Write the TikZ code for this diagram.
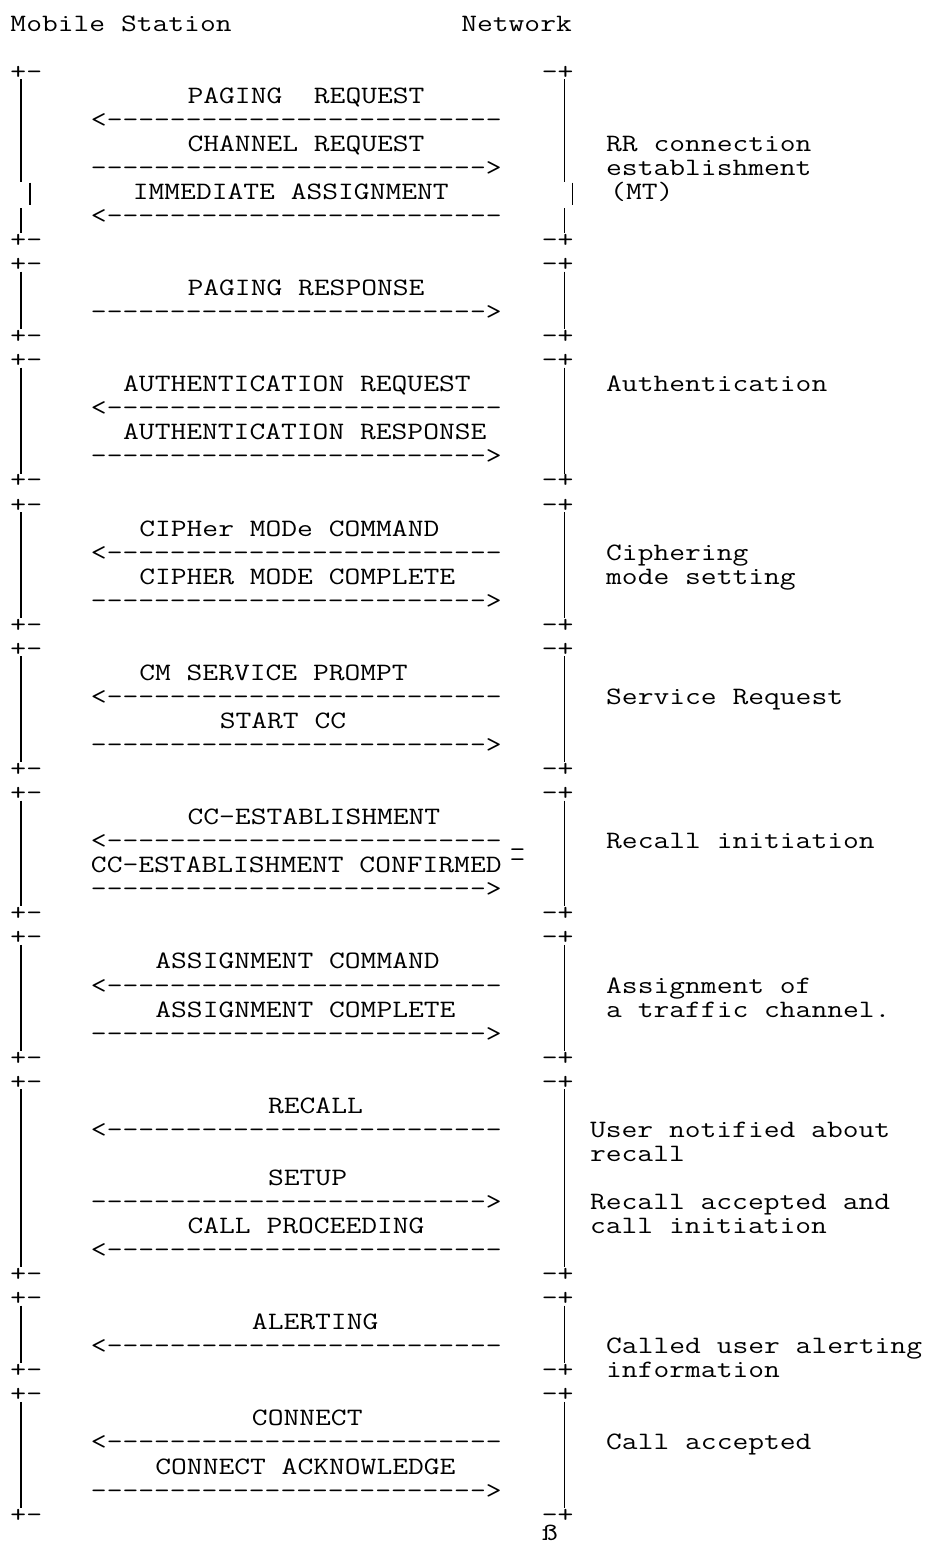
\documentclass[tikz,border=0pt]{standalone}
\newcommand\dashes[1]{\foreach \k in {1,...,#1}{-}}
\begin{document}
\begin{tikzpicture}[x=8.05pt, y=-12.025pt,
    msg/.style={anchor=base west, inner sep=0pt, xscale=1.2267, font=\ttfamily\fontsize{12.5}{13}\selectfont},
    bar/.style={line width=0.6pt}]
    \useasboundingbox (-0.621,-0.289) rectangle (56.96,63.91);
    % header
    \node[msg] (ms) at (0,1) {Mobile Station};
    \node[msg] (nw) at (28,1) {Network};
    % corners and side bars of the blocks
    \foreach \t/\b in {3/10,11/14,15/20,21/26,27/32,33/38,39/44,45/53,54/57,58/63} {
        \node[msg] (tl\t) at (0,\t) {+-};
        \node[msg] (tr\t) at (33,\t) {-+};
        \node[msg] (bl\b) at (0,\b) {+-};
        \node[msg] (br\b) at (33,\b) {-+};
    }
    \foreach \t/\b in {11/14,15/20,21/26,27/32,33/38,39/44,45/53,54/57,58/63} {
        \draw[bar] (0.683,\t) -- (0.683,\b-0.6);
        \draw[bar] (34.45,\t) -- (34.45,\b-0.6);
    }
    \draw[bar] (0.683,3) -- (0.683,7.28);
    \draw[bar] (1.24,7.3) -- (1.24,8.23);
    \draw[bar] (0.683,8.36) -- (0.683,9.4);
    \draw[bar] (34.45,3) -- (34.45,7.28);
    \draw[bar] (34.95,7.3) -- (34.95,8.23);
    \draw[bar] (34.45,8.36) -- (34.45,9.4);
    % message names
    \foreach \c/\l/\txt in {11/4/PAGING\ \ REQUEST, 11/6/CHANNEL REQUEST,
        7.6/8/IMMEDIATE ASSIGNMENT, 11/12/PAGING RESPONSE,
        7/16/AUTHENTICATION REQUEST, 7/18/AUTHENTICATION RESPONSE,
        8/22/CIPHer MODe COMMAND, 8/24/CIPHER MODE COMPLETE,
        8/28/CM SERVICE PROMPT, 13/30/START CC,
        11/34/CC-ESTABLISHMENT, 5/36/CC-ESTABLISHMENT CONFIRMED,
        9/40/ASSIGNMENT COMMAND, 9/42/ASSIGNMENT COMPLETE,
        16/46/RECALL, 16/49/SETUP, 11/51/CALL PROCEEDING,
        15/55/ALERTING, 15/59/CONNECT, 9/61/CONNECT ACKNOWLEDGE}
        \node[msg] (m\l) at (\c,\l) {\txt};
    % arrows
    \foreach \l in {5,9,17,23,29,35,41,47,52,56,60}
        \node[msg] (dn\l) at (5,\l) {<\dashes{25}};
    \foreach \l in {7,13,19,25,31,37,43,50,62}
        \node[msg] (up\l) at (5,\l) {\dashes{25}>};
    \node[msg] (us) at (31,34.85) {\rlap{\_}\raisebox{-5.4pt}{\_}};
    % procedure notes
    \foreach \c/\l/\txt in {37/6/RR connection, 37/7/establishment, 37.25/8/(MT),
        37/16/Authentication, 37/23/Ciphering, 37/24/mode setting,
        37/29/Service Request, 37/35/Recall initiation,
        37/41/Assignment of, 37/42/a traffic channel.,
        36/47/User notified about, 36/48/recall,
        36/50/Recall accepted and, 36/51/call initiation,
        37/56/Called user alerting, 37/57/information, 37/60/Call accepted}
        \node[msg] (n\l) at (\c,\l) {\txt};
    \node[msg] (eof) at (33,63.78) {ß};
\end{tikzpicture}
\end{document}
